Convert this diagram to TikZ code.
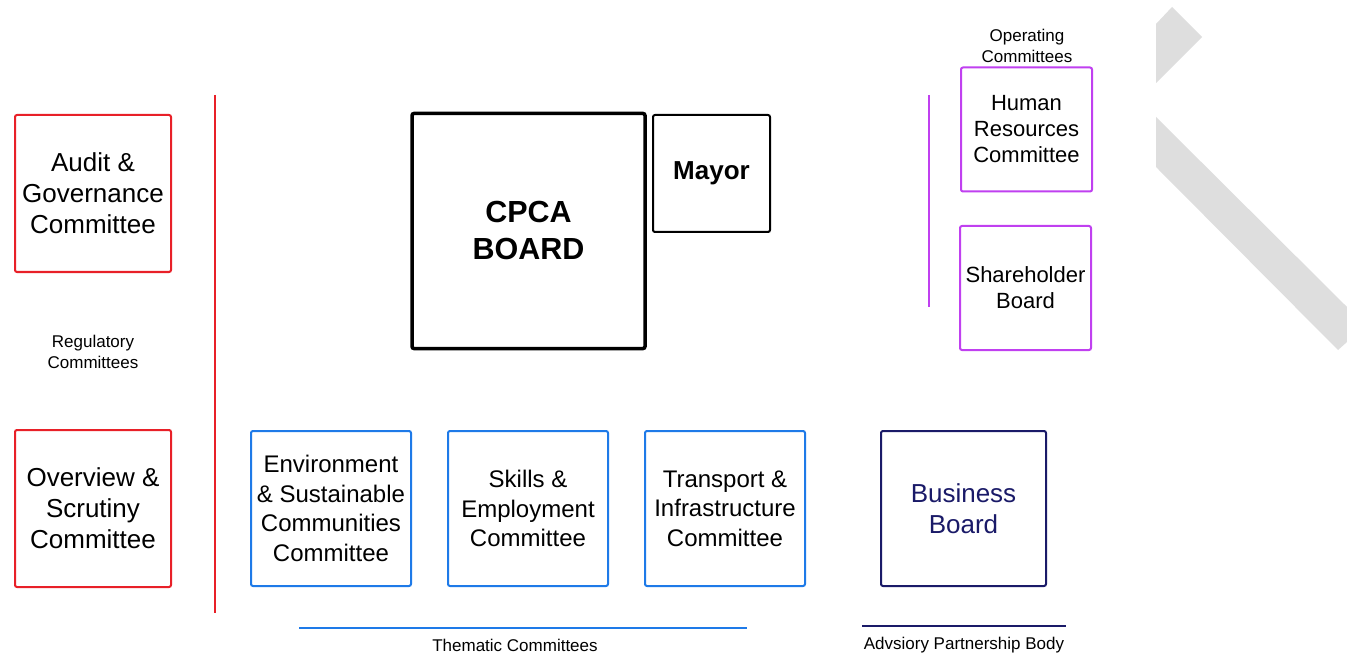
\documentclass[tikz,border=0pt]{standalone}
\usepackage{fontspec}
\setmainfont{Liberation Sans}
\definecolor{regred}{RGB}{232,32,40}
\definecolor{themeblue}{RGB}{30,122,232}
\definecolor{advnavy}{RGB}{26,26,104}
\definecolor{oppurple}{RGB}{192,64,240}
\definecolor{logogray}{RGB}{222,222,222}
\begin{document}
\begin{tikzpicture}[x=1pt,y=-1pt,
  box/.style={draw, rounded corners=2pt, line width=2pt, align=center, inner sep=0pt},
  bigtext/.style={font=\fontsize{26}{31}\selectfont},
  midtext/.style={font=\fontsize{24}{29.5}\selectfont},
  hrtext/.style={font=\fontsize{22}{26}\selectfont},
  smalltext/.style={font=\fontsize{17}{21}\selectfont, align=center, inner sep=0pt},
  regbox/.style={box, regred, text=black, minimum width=156pt, minimum height=157pt, bigtext},
  themebox/.style={box, themeblue, text=black, minimum width=160pt, minimum height=155pt, midtext},
  opbox/.style={box, oppurple, text=black, minimum width=131pt, minimum height=124pt, hrtext},
  groupline/.style={line width=2pt}
]
\useasboundingbox (0,0) rectangle (1347,655);
\fill[white] (0,0) rectangle (1347,655);

% logo fragment at the right edge
\fill[logogray] (1156,24) -- (1172,7) -- (1202,37) -- (1156,83) -- cycle;
\fill[logogray] (1156,117) -- (1347,307) -- (1347,342) -- (1338,350) -- (1156,167) -- cycle;

% regulatory committees
\node[regbox] (audit) at (93,193.5) {Audit \&\\Governance\\Committee};
\node[regbox] (scrutiny) at (93,508.5) {Overview \&\\Scrutiny\\Committee};
\node[smalltext] (reglabel) at (93,352) {Regulatory\\Committees};
\coordinate (regtop) at (215,95);
\coordinate (regbot) at (215,613);
\draw[groupline, regred] (regtop) -- (regbot);

% board and mayor
\node[box, line width=3.5pt, minimum width=233pt, minimum height=235pt,
      font=\bfseries\fontsize{30.5}{37}\selectfont] (board) at (528.5,231) {CPCA\\BOARD};
\node[box, minimum width=117pt, minimum height=117pt] (mayor) at (711.5,173.5) {};
\node[font=\bfseries\fontsize{26}{31}\selectfont, inner sep=0pt] (mayorlabel) at (711.5,173) {Mayor};

% thematic committees
\node[themebox] (env) at (331,508.5) {Environment\\\& Sustainable\\Communities\\Committee};
\node[themebox] (skills) at (528,508.5) {Skills \&\\Employment\\Committee};
\node[themebox] (transport) at (725,508.5) {Transport \&\\Infrastructure\\Committee};
\coordinate (themeleft) at (299,628);
\coordinate (themeright) at (747,628);
\draw[groupline, themeblue] (themeleft) -- (themeright);
\node[smalltext] (themelabel) at (515,645) {Thematic Committees};

% advisory partnership body
\node[box, advnavy, text=advnavy, minimum width=165pt, minimum height=155pt, bigtext] (business) at (963.5,508.5) {Business\\Board};
\coordinate (advleft) at (862,626);
\coordinate (advright) at (1066,626);
\draw[groupline, advnavy] (advleft) -- (advright);
\node[smalltext] (advlabel) at (964,645) {Advsiory Partnership Body};

% operating committees
\node[smalltext] (oplabel) at (1027,45.5) {Operating\\Committees};
\node[opbox] (hr) at (1026.5,129.5) {Human\\Resources\\Committee};
\node[opbox] (shareholder) at (1025.5,288) {Shareholder\\Board};
\coordinate (optop) at (929,95);
\coordinate (opbot) at (929,307);
\draw[groupline, oppurple] (optop) -- (opbot);
\end{tikzpicture}
\end{document}
